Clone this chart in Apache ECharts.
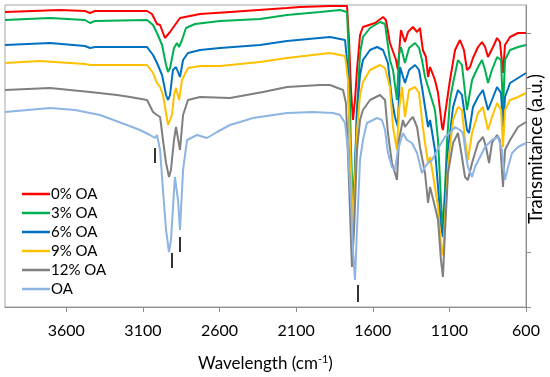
<!DOCTYPE html>
<html>
<head>
<meta charset="utf-8">
<script src="https://cdn.jsdelivr.net/npm/echarts@6/dist/echarts.min.js"></script>
<style>html,body{margin:0;padding:0;background:#fff}#c{width:550px;height:377px}</style>
</head>
<body>
<div id="c"></div>
<script>
// Series names
const seriesNames = ['0% OA', '3% OA', '6% OA', '9% OA', '12% OA', 'OA'];
// Tick values
const xTicks = [600, 1100, 1600, 2100, 2600, 3100, 3600];
const yTicks = [0, 54.8, 109.6, 164.4, 219.2, 274];
// Spectra: [wavenumber (cm-1), transmittance (a.u.)]
const oa0 = [[4000,295],[3817,296],[3641,297],[3478,296],[3445,294],[3413,296],[3073,296],[3041,293],[3008,283],[2988,282],[2956,269],[2923,275],[2891,282],[2858,289],[2793,291],[2727,293],[2532,295],[2160,299],[2075,300],[1879,301],[1768,301],[1755,267],[1742,217],[1729,187],[1716,207],[1703,237],[1683,272],[1664,280],[1585,284],[1533,290],[1514,287],[1488,264],[1475,263],[1448,247],[1436,237],[1422,267],[1416,277],[1390,265],[1370,275],[1338,280],[1311,275],[1292,279],[1273,257],[1253,250],[1239,230],[1226,240],[1194,227],[1174,214],[1161,197],[1148,180],[1142,177],[1129,192],[1096,227],[1063,257],[1031,267],[1005,257],[985,237],[965,240],[946,249],[913,260],[887,265],[867,260],[848,250],[835,249],[809,262],[789,269],[770,265],[757,245],[750,234],[737,262],[704,270],[652,274],[600,274]];
const oa3 = [[4000,287],[3706,289],[3478,287],[3445,284],[3413,286],[3073,287],[3034,282],[3008,274],[2995,275],[2975,262],[2949,242],[2936,235],[2923,239],[2897,259],[2878,264],[2864,260],[2845,267],[2819,279],[2760,283],[2597,286],[2336,288],[2160,292],[1944,295],[1814,297],[1768,295],[1755,247],[1742,157],[1729,100],[1716,137],[1703,197],[1683,254],[1664,270],[1618,279],[1553,285],[1520,283],[1488,247],[1468,237],[1442,207],[1429,252],[1416,260],[1390,244],[1363,259],[1324,264],[1298,259],[1279,247],[1259,230],[1239,220],[1226,219],[1194,197],[1174,167],[1155,107],[1142,77],[1129,117],[1115,167],[1096,207],[1076,224],[1044,247],[1018,242],[985,197],[952,227],[913,240],[887,247],[867,237],[848,224],[822,237],[789,250],[763,247],[750,197],[737,247],[704,257],[652,260],[600,262]];
const oa6 = [[4000,262],[3706,264],[3478,261],[3445,259],[3413,260],[3073,260],[3034,252],[3008,244],[2995,245],[2975,232],[2949,212],[2936,207],[2923,212],[2904,237],[2884,240],[2858,230],[2838,247],[2806,254],[2727,257],[2597,259],[2336,262],[2160,266],[1879,270],[1781,267],[1762,237],[1749,157],[1729,80],[1716,137],[1703,197],[1683,232],[1664,247],[1618,257],[1572,260],[1533,257],[1501,244],[1475,207],[1455,190],[1436,180],[1422,240],[1390,224],[1363,237],[1324,242],[1298,237],[1279,220],[1259,200],[1239,180],[1226,187],[1194,157],[1174,120],[1155,82],[1142,70],[1129,107],[1109,157],[1076,200],[1044,217],[1018,212],[985,177],[972,174],[946,200],[913,210],[881,217],[848,197],[822,207],[789,220],[763,214],[750,180],[737,210],[704,224],[652,229],[600,234]];
const oa9 = [[4000,244],[3772,246],[3478,243],[3445,242],[3073,242],[3034,234],[3008,224],[2988,220],[2969,212],[2949,194],[2936,182],[2923,180],[2910,192],[2897,212],[2884,219],[2864,207],[2845,227],[2806,239],[2727,241],[2597,241],[2336,245],[2160,249],[1879,254],[1781,251],[1762,227],[1749,167],[1729,77],[1716,127],[1703,177],[1683,212],[1664,225],[1618,237],[1553,242],[1520,239],[1488,220],[1468,180],[1442,157],[1429,197],[1409,220],[1390,190],[1363,217],[1324,220],[1298,214],[1279,187],[1259,164],[1239,144],[1226,150],[1194,120],[1174,100],[1155,62],[1142,52],[1129,87],[1109,142],[1076,187],[1044,200],[1018,197],[998,167],[979,147],[952,174],[913,194],[881,200],[848,177],[822,190],[789,204],[763,197],[750,160],[737,197],[704,207],[652,210],[600,214]];
const oa12 = [[4000,217],[3706,219],[3445,215],[3269,212],[3184,210],[3073,207],[3034,195],[3008,192],[2988,190],[2969,167],[2949,144],[2930,130],[2917,137],[2897,167],[2884,180],[2858,157],[2838,192],[2806,207],[2727,210],[2532,209],[2316,215],[2160,220],[1944,222],[1879,222],[1794,217],[1775,204],[1755,124],[1736,40],[1722,77],[1703,157],[1683,187],[1664,197],[1618,207],[1553,212],[1520,207],[1501,174],[1475,144],[1455,134],[1442,127],[1429,167],[1403,187],[1390,180],[1357,187],[1338,190],[1311,180],[1292,160],[1259,134],[1239,104],[1226,120],[1194,100],[1174,87],[1155,47],[1142,30],[1129,74],[1109,134],[1076,164],[1044,174],[1018,150],[998,130],[979,127],[952,144],[913,164],[881,170],[861,160],[841,144],[822,164],[789,172],[770,167],[750,120],[737,157],[704,167],[652,180],[600,185]];
const oaPure = [[4000,195],[3706,199],[3543,197],[3380,192],[3204,182],[3119,177],[3054,172],[3021,169],[3008,172],[2988,157],[2969,117],[2949,77],[2930,55],[2917,67],[2891,130],[2871,107],[2858,77],[2838,137],[2812,167],[2747,172],[2682,169],[2616,175],[2532,182],[2466,185],[2382,189],[2160,194],[1990,195],[1859,194],[1814,192],[1781,184],[1762,157],[1742,107],[1729,57],[1716,27],[1703,77],[1683,147],[1664,167],[1638,184],[1572,189],[1540,187],[1520,177],[1501,154],[1475,140],[1455,137],[1436,157],[1403,174],[1377,167],[1344,164],[1311,154],[1279,134],[1259,140],[1239,144],[1213,147],[1161,162],[1129,170],[1096,174],[1063,180],[1031,177],[1011,174],[992,152],[979,140],[952,130],[933,140],[900,150],[867,160],[822,167],[783,170],[757,157],[737,127],[717,140],[691,154],[652,160],[600,164]];
// Peak marker segments: [wavenumber, from, to]
const peakMarks = [[3021,144,159],[2910,39,54],[2858,55,70],[1696,5,22]];

const colors = ['#ff0000', '#00b050', '#0070c0', '#ffc000', '#7f7f7f', '#8db4e2'];
const datasets = [oa0, oa3, oa6, oa9, oa12, oaPure];
const font = 'Lato';
const axisGray = '#8c8c8c';

const chart = echarts.init(document.getElementById('c'), null, {renderer: 'canvas'});
const series = datasets.map((d, i) => ({
  name: seriesNames[i], type: 'line', data: d, showSymbol: false, symbol: 'none',
  lineStyle: {width: 2, color: colors[i]}, itemStyle: {color: colors[i]},
  emphasis: {disabled: true}, animation: false, z: 2
}));
series.push({
  type: 'lines', coordinateSystem: 'cartesian2d', animation: false, silent: true,
  lineStyle: {color: '#000', width: 1.6, opacity: 1},
  data: peakMarks.map(m => ({coords: [[m[0], m[1]], [m[0], m[2]]]})), z: 3
});

chart.setOption({
  animation: false,
  grid: {left: 5, right: 24, top: 5, bottom: 70, show: true, borderColor: '#a6a6a6', borderWidth: 1},
  legend: {
    data: seriesNames, orient: 'vertical', left: 17, top: 181,
    icon: 'rect', itemWidth: 28, itemHeight: 2.5, itemGap: 3,
    textStyle: {fontFamily: font, fontSize: 15, color: '#000', lineHeight: 16, padding: [0,0,0,-4]}
  },
  xAxis: {
    type: 'value', inverse: true, min: 600, max: 4000, interval: 500,
    axisLine: {lineStyle: {color: axisGray}},
    axisTick: {customValues: xTicks, length: 5, lineStyle: {color: axisGray}},
    axisLabel: {customValues: xTicks, margin: 16, fontFamily: font, fontSize: 16, color: '#000',
      formatter: v => String(v)},
    splitLine: {show: false},
    name: 'Wavelength (cm{sup|-1})', nameLocation: 'middle', nameGap: 47,
    nameTextStyle: {fontFamily: font, fontSize: 17, color: '#000',
      rich: {sup: {fontFamily: font, fontSize: 11, verticalAlign: 'top', color: '#000', padding: [0,0,8,0]}}}
  },
  yAxis: {
    type: 'value', position: 'right', min: 0, max: 302,
    axisLine: {show: true, lineStyle: {color: axisGray}},
    axisTick: {show: true, customValues: yTicks, length: 5, lineStyle: {color: axisGray}},
    axisLabel: {show: false},
    splitLine: {show: false}
  },
  graphic: [{
    type: 'text', x: 536, y: 149, rotation: Math.PI / 2,
    style: {text: 'Transmitance (a.u.)', fontFamily: font, fontSize: 18.5, fill: '#000',
      textAlign: 'center', textVerticalAlign: 'middle'}
  }],
  series: series
});
</script>
</body>
</html>
